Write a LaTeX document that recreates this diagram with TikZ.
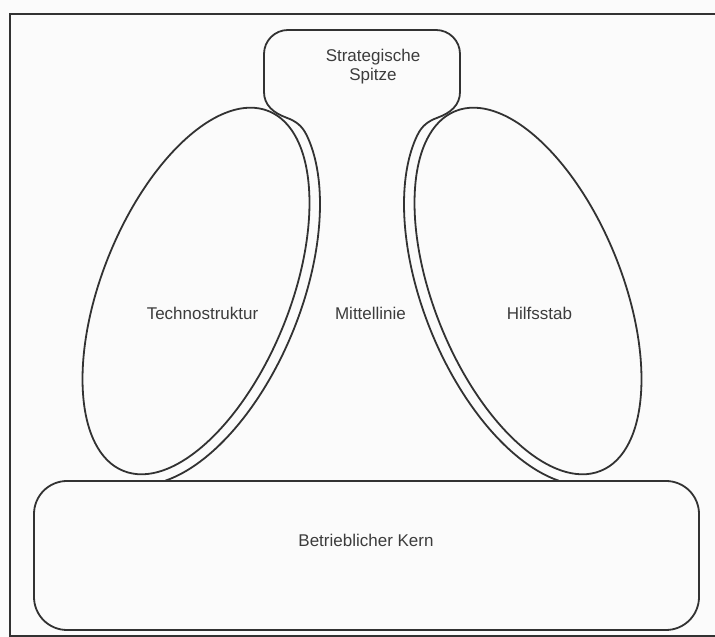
\documentclass[tikz,border=0pt]{standalone}
\usepackage{fontspec}
\setmainfont{Liberation Sans}
\definecolor{linec}{RGB}{50,50,50}
\definecolor{textc}{RGB}{60,60,60}
\definecolor{bgc}{RGB}{251,251,251}
\begin{document}
\begin{tikzpicture}[x=1pt,y=1pt,
  outline/.style={draw=linec, line width=1.8pt, line join=round},
  frameline/.style={draw=linec, line width=1.3pt},
  lbl/.style={text=textc, font=\fontsize{17}{19}\selectfont, align=center, inner sep=0pt}]
\useasboundingbox (0,0) rectangle (715,637);
\fill[bgc] (0,0) rectangle (715,637);
% frame
\draw[frameline] (715,623) -- (10,623) -- (10,1) -- (715,1);
% operating core
\draw[outline, rounded corners=33pt] (34,7) rectangle (699,156);
% strategic apex + middle line
\draw[outline]
  plot[domain=-156:-25, samples=90, variable=\t]
    ({196+76.79*cos(\t)-97.36*sin(\t)}, {346+190.08*cos(\t)+39.33*sin(\t)})
  to[out=116, in=-20] (286,519.5)
  to[out=160, in=-90] (264,545)
  -- (264,583) arc[start angle=180, end angle=90, radius=24]
  -- (436,607) arc[start angle=90, end angle=0, radius=24]
  -- (460,545)
  to[out=-90, in=20] (438,519.5)
  to[out=-160, in=64] (417.3,501.7)
  -- plot[domain=-25:-156, samples=90, variable=\t]
    ({528-76.79*cos(\t)+97.36*sin(\t)}, {346+190.08*cos(\t)+39.33*sin(\t)});
% technostructure and support staff
\draw[outline, rotate around={68:(196,346)}] (196,346) ellipse [x radius=194, y radius=94];
\draw[outline, rotate around={-68:(528,346)}] (528,346) ellipse [x radius=194, y radius=94];
% labels
\node[lbl] (apex) at (373,570) {Strategische\\Spitze};
\node[lbl] (techno) at (202.5,324) {Technostruktur};
\node[lbl] (mittel) at (370.5,324) {Mittellinie};
\node[lbl] (hilfs) at (539.5,324) {Hilfsstab};
\node[lbl] (kern) at (366,97) {Betrieblicher Kern};
\end{tikzpicture}
\end{document}
